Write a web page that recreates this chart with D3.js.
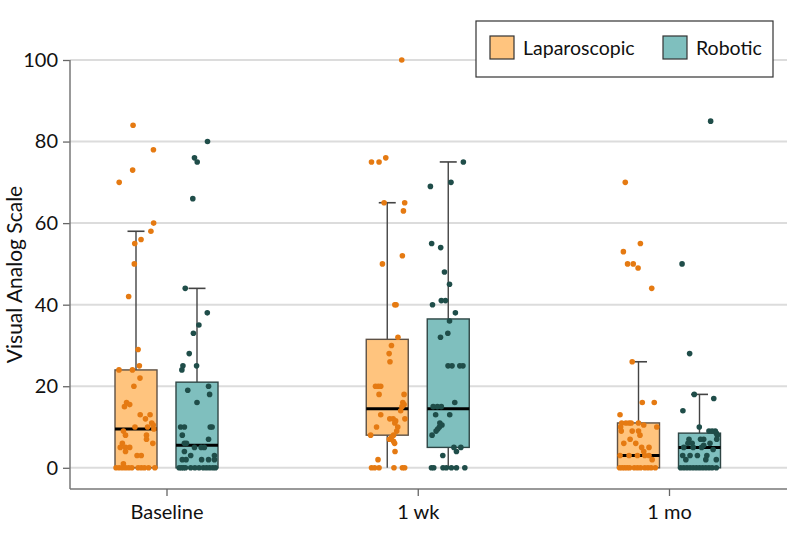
<!DOCTYPE html>
<html><head><meta charset="utf-8">
<script src="https://cdn.jsdelivr.net/npm/d3@7"></script>
<style>body{margin:0;background:#fff}svg{display:block}text{font-family:Lato,"Open Sans",sans-serif;fill:#111}</style>
</head><body><svg id="c" width="798" height="539"></svg>
<script>
const categories = ["Baseline", "1 wk", "1 mo"];
const seriesNames = ["Laparoscopic", "Robotic"];
const yTicks = [0, 20, 40, 60, 80, 100];

// box statistics per category
const lapQ1 = [0, 8, 0];
const lapMedian = [9.5, 14.5, 3];
const lapQ3 = [24, 31.5, 11];
const lapLow = [0, 0, 0];
const lapHigh = [58, 65, 26];
const robQ1 = [0, 5, 0];
const robMedian = [5.5, 14.5, 5];
const robQ3 = [21, 36.5, 8.5];
const robLow = [0, 0, 0];
const robHigh = [44, 75, 18];

// individual observations: [value, jitter (-1..1 across box)]
const lapBaseline = [[84,-0.14],[78,0.83],[73,-0.16],[70,-0.8],[60,0.84],[58,0.71],[56,0.24],[55,-0.06],[50,-0.08],[42,-0.35],[29,0.1],[25,0.16],[24,-0.81],[24,-0.17],[22,0.19],[20,-0.1],[16,-0.45],[15.5,-0.3],[15,-0.55],[13,0.2],[13,0.67],[12,0.45],[11,0.75],[10.5,0.82],[10,-0.05],[10,0.55],[9.5,0.85],[9,-0.6],[8,-0.5],[8,0.5],[7,0.5],[6,0.8],[6,-0.65],[5,-0.5],[5,-0.3],[5,-0.75],[4,-0.5],[3,0.05],[3,0.25],[1,-0.6],[0,-0.95],[0,-0.8],[0,-0.65],[0,-0.5],[0,-0.35],[0,-0.2],[0,0.1],[0,0.25],[0,0.4],[0,0.6],[0,0.9]];
const robBaseline = [[80,0.5],[76,-0.12],[75,0.01],[66,-0.2],[44,-0.56],[38,0.49],[35,0.09],[33,-0.17],[28,-0.37],[25,-0.67],[24,-0.72],[25,-0.02],[20,0.55],[19,-0.44],[18,0.6],[16,0],[10,-0.78],[10,-0.6],[10,0.63],[10,0.72],[8,-0.7],[7,0.55],[6,-0.6],[6,-0.5],[5,0.35],[5,0.2],[5,-0.12],[4,-0.6],[3,-0.3],[3,0.83],[2,-0.7],[2,-0.52],[2,0.22],[2,0.55],[2,0.83],[0,-0.85],[0,-0.75],[0,-0.65],[0,-0.55],[0,-0.3],[0,-0.1],[0,0.1],[0,0.3],[0,0.45],[0,0.6],[0,0.75],[0,0.88]];
const lapWeek = [[100,0.69],[76,-0.07],[75,-0.75],[75,-0.39],[65,-0.15],[65,0.83],[63,0.77],[52,0.72],[50,-0.23],[40,0.36],[40,0.42],[32,0.51],[30,0.2],[28,0.09],[26,0.13],[20,-0.56],[20,-0.43],[20,-0.31],[18,-0.39],[18,0.8],[16,0.74],[15.5,0.8],[15,0.7],[14,0.64],[13,-0.31],[12,0.12],[12,0.28],[11.5,0.4],[12,0.84],[11,0.36],[10,-0.51],[10,0.5],[9,0.45],[8,-0.79],[8,0.3],[7.5,0.2],[7,0.1],[6.5,0.3],[6,0.35],[4,0.37],[2,-0.44],[0,-0.75],[0,-0.6],[0,-0.39],[0,0.32],[0,0.72],[0,0.83]];
const robWeek = [[75,0.72],[70,0.13],[69,-0.85],[55,-0.79],[54,-0.36],[48,-0.18],[45,0.06],[41,-0.33],[41,-0.13],[40,-0.75],[38,0.34],[36,0.06],[33,-0.02],[32,-0.37],[25,-0.01],[25,0.18],[25,0.55],[25,0.7],[16,0.31],[15,-0.72],[15,-0.52],[15,-0.33],[13,-0.6],[13,0.07],[11,-0.4],[10.5,-0.3],[10,-0.42],[9.5,-0.5],[9,-0.58],[8,-0.77],[5,0.27],[5,0.6],[4,0.39],[3,-0.26],[0,-0.8],[0,-0.69],[0,-0.25],[0,-0.09],[0,0.15],[0,0.39],[0,0.79]];
const lapMonth = [[70,-0.63],[55,0.09],[53,-0.72],[50,-0.52],[50,-0.25],[49,-0.02],[44,0.63],[26,-0.3],[16,0.18],[16,0.75],[13,-0.88],[11,-0.8],[11,-0.6],[11,-0.45],[11,-0.35],[11,0],[10.5,0.25],[10,0.87],[10,-0.85],[9,-0.82],[9,-0.3],[9,0],[8,0.07],[7,-0.4],[6,-0.7],[6,-0.13],[5,0.15],[5,0.5],[4,0.25],[3,-0.88],[3,-0.45],[3,-0.05],[3,0.3],[3,0.5],[2,0.65],[0,-0.9],[0,-0.78],[0,-0.66],[0,-0.54],[0,-0.42],[0,-0.2],[0,-0.05],[0,0.1],[0,0.3],[0,0.45],[0,0.6],[0,0.8]];
const robMonth = [[85,0.53],[50,-0.83],[28,-0.47],[18,-0.25],[17,0.68],[14,-0.79],[10,-0.01],[9,0.45],[9,0.75],[9,0.6],[8.5,0.8],[8,0.85],[7,0.2],[7,0.05],[7,-0.5],[7,0.82],[6,-0.55],[6,-0.35],[6,0.5],[5.5,0.2],[5,-0.75],[5,-0.3],[5,0.1],[4.5,0.65],[3,-0.8],[3,-0.45],[3,-0.1],[3,0.35],[2,-0.65],[2,0.3],[2,0.8],[0,-0.9],[0,-0.75],[0,-0.6],[0,-0.45],[0,-0.3],[0,-0.15],[0,0],[0,0.15],[0,0.3],[0,0.45],[0,0.6],[0,0.8]];

const lapPoints = [lapBaseline, lapWeek, lapMonth];
const robPoints = [robBaseline, robWeek, robMonth];

const colors = {
  Laparoscopic: {fill: "#FFC47E", stroke: "#5e5145", point: "#E57A12"},
  Robotic: {fill: "#7FBFBE", stroke: "#2f4645", point: "#1F4D49"}
};

const svg = d3.select("#c");
const plot = {left: 70, right: 787, top: 60, bottom: 489};
const y = d3.scaleLinear().domain([-5.2, 100]).range([plot.bottom, plot.top]);
const x = d3.scalePoint().domain(categories).range([166.5, 669]);
const sub = d3.scalePoint().domain(seriesNames).range([-30.5, 30.5]);
const boxW = 42, capW = 17;

// gridlines
svg.append("g").selectAll("line").data(yTicks).join("line")
  .attr("x1", plot.left).attr("x2", plot.right)
  .attr("y1", d => y(d)).attr("y2", d => y(d))
  .attr("stroke", "#dcdcdc").attr("stroke-width", 2);

// y axis
const ya = svg.append("g").attr("transform", `translate(${plot.left},0)`)
  .call(d3.axisLeft(y).tickValues(yTicks).tickSize(7).tickSizeOuter(0).tickPadding(5));
ya.select(".domain").remove();
ya.selectAll(".tick line").attr("stroke", "#666").attr("stroke-width", 1.3);
ya.selectAll(".tick text").attr("font-size", 20).attr("font-family", "Lato").attr("fill", "#111");
svg.append("line").attr("x1", plot.left).attr("x2", plot.left).attr("y1", y(100)).attr("y2", plot.bottom)
  .attr("stroke", "#777").attr("stroke-width", 1.5);

// x axis
svg.append("line").attr("x1", plot.left).attr("x2", plot.right).attr("y1", plot.bottom).attr("y2", plot.bottom)
  .attr("stroke", "#777").attr("stroke-width", 1.5);
const xa = svg.append("g").attr("transform", `translate(0,${plot.bottom})`)
  .call(d3.axisBottom(x).tickSize(7).tickSizeOuter(0).tickPadding(9));
xa.select(".domain").remove();
xa.selectAll(".tick line").attr("stroke", "#666").attr("stroke-width", 1.3);
xa.selectAll(".tick text").attr("font-size", 20).attr("font-family", "Lato").attr("fill", "#111");

// y title
svg.append("text").attr("transform", `translate(22,${(plot.top + plot.bottom) / 2}) rotate(-90)`)
  .attr("text-anchor", "middle").attr("font-size", 21).text("Visual Analog Scale");

function drawSeries(name, q1, med, q3, lo, hi, pts) {
  const c = colors[name];
  const g = svg.append("g");
  categories.forEach((cat, i) => {
    const cx = x(cat) + sub(name);
    g.append("line").attr("x1", cx).attr("x2", cx).attr("y1", y(q3[i])).attr("y2", y(hi[i]))
      .attr("stroke", "#444").attr("stroke-width", 1.4);
    g.append("line").attr("x1", cx - capW / 2).attr("x2", cx + capW / 2).attr("y1", y(hi[i])).attr("y2", y(hi[i]))
      .attr("stroke", "#444").attr("stroke-width", 1.6);
    if (q1[i] > lo[i]) {
      g.append("line").attr("x1", cx).attr("x2", cx).attr("y1", y(q1[i])).attr("y2", y(lo[i]))
        .attr("stroke", "#444").attr("stroke-width", 1.4);
    }
    g.append("rect").attr("x", cx - boxW / 2).attr("width", boxW)
      .attr("y", y(q3[i])).attr("height", y(q1[i]) - y(q3[i]))
      .attr("fill", c.fill).attr("stroke", c.stroke).attr("stroke-width", 1.4);
    g.append("line").attr("x1", cx - boxW / 2).attr("x2", cx + boxW / 2).attr("y1", y(med[i])).attr("y2", y(med[i]))
      .attr("stroke", "#000").attr("stroke-width", 3);
  });
  categories.forEach((cat, i) => {
    const cx = x(cat) + sub(name);
    g.append("g").selectAll("circle").data(pts[i]).join("circle")
      .attr("cx", d => cx + d[1] * boxW / 2)
      .attr("cy", d => y(d[0]))
      .attr("r", 2.8).attr("fill", c.point);
  });
}
drawSeries("Laparoscopic", lapQ1, lapMedian, lapQ3, lapLow, lapHigh, lapPoints);
drawSeries("Robotic", robQ1, robMedian, robQ3, robLow, robHigh, robPoints);

// legend
const lg = svg.append("g");
lg.append("rect").attr("x", 476).attr("y", 21).attr("width", 297).attr("height", 56)
  .attr("fill", "#fff").attr("stroke", "#333").attr("stroke-width", 1.2);
const legendX = d3.scalePoint().domain(seriesNames).range([490, 663]);
seriesNames.forEach(n => {
  lg.append("rect").attr("x", legendX(n)).attr("y", 36).attr("width", 24).attr("height", 23)
    .attr("fill", colors[n].fill).attr("stroke", "#333").attr("stroke-width", 1.2);
  lg.append("text").attr("x", legendX(n) + 33).attr("y", 55).attr("font-size", 19.5).text(n);
});
</script></body></html>
